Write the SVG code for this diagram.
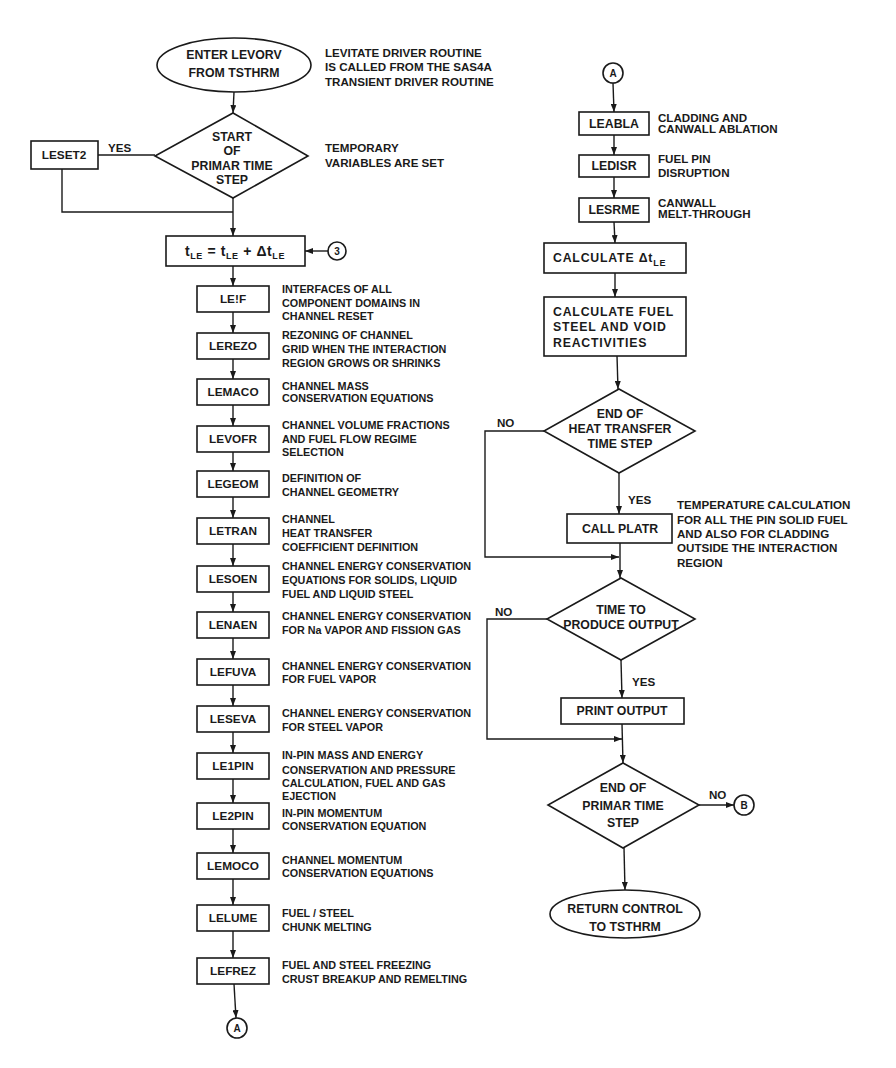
<svg xmlns="http://www.w3.org/2000/svg" width="896" height="1068" viewBox="0 0 896 1068">
<defs>
<marker id="arr" viewBox="0 0 8 6" refX="8" refY="3" markerWidth="8" markerHeight="6" markerUnits="userSpaceOnUse" orient="auto">
<path d="M0,0 L8,3 L0,6 z" fill="#1a1a1a"/>
</marker>
<style>
.bg{fill:#ffffff}
.s{fill:#ffffff;stroke:#1a1a1a;stroke-width:1.6}
.c{fill:none;stroke:#1a1a1a;stroke-width:1.4}
.t{font-family:"Liberation Sans",Arial,sans-serif;font-weight:bold;fill:#1a1a1a}
.lab{font-size:11.8px;text-anchor:middle}
.big{font-size:12.3px;text-anchor:middle}
.d{font-size:10.8px}
.r{font-size:11.6px}
.sm{font-size:9px}
.wide{font-size:12.3px;letter-spacing:0.8px}
</style>
</defs>
<rect class="bg" x="0" y="0" width="896" height="1068"/>

<g id="connectors">
<line class="c" x1="234" y1="92" x2="233" y2="113" marker-end="url(#arr)"/>
<line class="c" x1="155" y1="155" x2="98" y2="155"/>
<polyline class="c" points="62,169 62,212 233,212"/>
<line class="c" x1="233" y1="198" x2="233" y2="236" marker-end="url(#arr)"/>
<line class="c" x1="328" y1="251" x2="305" y2="251" marker-end="url(#arr)"/>
<line class="c" x1="233" y1="266" x2="233" y2="286" marker-end="url(#arr)"/>
<line class="c" x1="233" y1="312" x2="233" y2="333" marker-end="url(#arr)"/>
<line class="c" x1="233" y1="359" x2="233" y2="379" marker-end="url(#arr)"/>
<line class="c" x1="233" y1="405" x2="233" y2="426" marker-end="url(#arr)"/>
<line class="c" x1="233" y1="452" x2="233" y2="471" marker-end="url(#arr)"/>
<line class="c" x1="233" y1="497" x2="233" y2="518" marker-end="url(#arr)"/>
<line class="c" x1="233" y1="544" x2="233" y2="566" marker-end="url(#arr)"/>
<line class="c" x1="233" y1="592" x2="233" y2="612" marker-end="url(#arr)"/>
<line class="c" x1="233" y1="638" x2="233" y2="659" marker-end="url(#arr)"/>
<line class="c" x1="233" y1="685" x2="233" y2="706" marker-end="url(#arr)"/>
<line class="c" x1="233" y1="732" x2="233" y2="753" marker-end="url(#arr)"/>
<line class="c" x1="233" y1="779" x2="233" y2="803" marker-end="url(#arr)"/>
<line class="c" x1="233" y1="829" x2="233" y2="853" marker-end="url(#arr)"/>
<line class="c" x1="233" y1="879" x2="233" y2="905" marker-end="url(#arr)"/>
<line class="c" x1="233" y1="931" x2="233" y2="958" marker-end="url(#arr)"/>
<line class="c" x1="234" y1="984" x2="236" y2="1018" marker-end="url(#arr)"/>

<line class="c" x1="613" y1="83" x2="614" y2="112" marker-end="url(#arr)"/>
<line class="c" x1="614" y1="135" x2="614" y2="155" marker-end="url(#arr)"/>
<line class="c" x1="614" y1="177" x2="614" y2="198" marker-end="url(#arr)"/>
<line class="c" x1="614" y1="222" x2="615" y2="243" marker-end="url(#arr)"/>
<line class="c" x1="615" y1="273" x2="615" y2="297" marker-end="url(#arr)"/>
<line class="c" x1="617" y1="356" x2="618" y2="389" marker-end="url(#arr)"/>
<line class="c" x1="619" y1="473" x2="619" y2="514" marker-end="url(#arr)"/>
<line class="c" x1="620" y1="543" x2="620" y2="578" marker-end="url(#arr)"/>
<polyline class="c" points="544,431 485,431 485,557 619,557" marker-end="url(#arr)"/>
<line class="c" x1="621" y1="660" x2="622" y2="698" marker-end="url(#arr)"/>
<polyline class="c" points="547,619 487,619 487,739 622,739" marker-end="url(#arr)"/>
<line class="c" x1="622" y1="724" x2="623" y2="763" marker-end="url(#arr)"/>
<line class="c" x1="699" y1="805" x2="734" y2="805" marker-end="url(#arr)"/>
<line class="c" x1="624" y1="848" x2="625" y2="890" marker-end="url(#arr)"/>
</g>

<g id="enter">
<ellipse class="s" cx="234" cy="65" rx="77" ry="27"/>
<text class="t big" x="234" y="59">ENTER LEVORV</text>
<text class="t big" x="234" y="77">FROM TSTHRM</text>
<text class="t r" x="325" y="57">LEVITATE DRIVER ROUTINE</text>
<text class="t r" x="325" y="71">IS CALLED FROM THE SAS4A</text>
<text class="t r" x="325" y="86">TRANSIENT DRIVER ROUTINE</text>
</g>

<g id="start-primar">
<polygon class="s" points="233,113 308,156 233,198 155,156"/>
<text class="t big" x="232" y="141">START</text>
<text class="t big" x="232" y="155">OF</text>
<text class="t big" x="232" y="170">PRIMAR TIME</text>
<text class="t big" x="232" y="184">STEP</text>
<text class="t r" x="325" y="152">TEMPORARY</text>
<text class="t r" x="325" y="167">VARIABLES ARE SET</text>
<text class="t r" x="108" y="152">YES</text>
</g>

<g id="leset2">
<rect class="s" x="31" y="141" width="67" height="28"/>
<text class="t lab" x="64" y="159">LESET2</text>
</g>

<g id="tle">
<rect class="s" x="166" y="236" width="139" height="30"/>
<text class="t" x="235" y="256" text-anchor="middle" font-size="14px" letter-spacing="0.6px">t<tspan class="sm" dy="3">LE</tspan><tspan dy="-3"> = t</tspan><tspan class="sm" dy="3">LE</tspan><tspan dy="-3"> + Δt</tspan><tspan class="sm" dy="3">LE</tspan></text>
</g>

<g id="conn-b-top">
<circle class="s" cx="337" cy="251" r="9"/>
<text class="t" x="337" y="255" text-anchor="middle" font-size="10px">3</text>
</g>

<g id="le-if">
<rect class="s" x="197" y="286" width="72" height="26"/>
<text class="t lab" x="233" y="303">LE!F</text>
<text class="t d" x="282" y="293">INTERFACES OF ALL</text>
<text class="t d" x="282" y="307">COMPONENT DOMAINS IN</text>
<text class="t d" x="282" y="320">CHANNEL RESET</text>
</g>
<g id="lerezo">
<rect class="s" x="197" y="333" width="72" height="26"/>
<text class="t lab" x="233" y="350">LEREZO</text>
<text class="t d" x="282" y="339">REZONING OF CHANNEL</text>
<text class="t d" x="282" y="353">GRID WHEN THE INTERACTION</text>
<text class="t d" x="282" y="367">REGION GROWS OR SHRINKS</text>
</g>
<g id="lemaco">
<rect class="s" x="197" y="379" width="72" height="26"/>
<text class="t lab" x="233" y="396">LEMACO</text>
<text class="t d" x="282" y="390">CHANNEL MASS</text>
<text class="t d" x="282" y="402">CONSERVATION EQUATIONS</text>
</g>
<g id="levofr">
<rect class="s" x="197" y="426" width="72" height="26"/>
<text class="t lab" x="233" y="443">LEVOFR</text>
<text class="t d" x="282" y="429">CHANNEL VOLUME FRACTIONS</text>
<text class="t d" x="282" y="443">AND FUEL FLOW REGIME</text>
<text class="t d" x="282" y="456">SELECTION</text>
</g>
<g id="legeom">
<rect class="s" x="197" y="471" width="72" height="26"/>
<text class="t lab" x="233" y="488">LEGEOM</text>
<text class="t d" x="282" y="482">DEFINITION OF</text>
<text class="t d" x="282" y="496">CHANNEL GEOMETRY</text>
</g>
<g id="letran">
<rect class="s" x="197" y="518" width="72" height="26"/>
<text class="t lab" x="233" y="535">LETRAN</text>
<text class="t d" x="282" y="523">CHANNEL</text>
<text class="t d" x="282" y="537">HEAT TRANSFER</text>
<text class="t d" x="282" y="551">COEFFICIENT DEFINITION</text>
</g>
<g id="lesoen">
<rect class="s" x="197" y="566" width="72" height="26"/>
<text class="t lab" x="233" y="583">LESOEN</text>
<text class="t d" x="282" y="570">CHANNEL ENERGY CONSERVATION</text>
<text class="t d" x="282" y="584">EQUATIONS FOR SOLIDS, LIQUID</text>
<text class="t d" x="282" y="598">FUEL AND LIQUID STEEL</text>
</g>
<g id="lenaen">
<rect class="s" x="197" y="612" width="72" height="26"/>
<text class="t lab" x="233" y="629">LENAEN</text>
<text class="t d" x="282" y="620">CHANNEL ENERGY CONSERVATION</text>
<text class="t d" x="282" y="634">FOR Na VAPOR AND FISSION GAS</text>
</g>
<g id="lefuva">
<rect class="s" x="197" y="659" width="72" height="26"/>
<text class="t lab" x="233" y="676">LEFUVA</text>
<text class="t d" x="282" y="670">CHANNEL ENERGY CONSERVATION</text>
<text class="t d" x="282" y="683">FOR FUEL VAPOR</text>
</g>
<g id="leseva">
<rect class="s" x="197" y="706" width="72" height="26"/>
<text class="t lab" x="233" y="723">LESEVA</text>
<text class="t d" x="282" y="717">CHANNEL ENERGY CONSERVATION</text>
<text class="t d" x="282" y="731">FOR STEEL VAPOR</text>
</g>
<g id="le1pin">
<rect class="s" x="197" y="753" width="72" height="26"/>
<text class="t lab" x="233" y="770">LE1PIN</text>
<text class="t d" x="282" y="759">IN-PIN MASS AND ENERGY</text>
<text class="t d" x="282" y="774">CONSERVATION AND PRESSURE</text>
<text class="t d" x="282" y="787">CALCULATION, FUEL AND GAS</text>
<text class="t d" x="282" y="800">EJECTION</text>
</g>
<g id="le2pin">
<rect class="s" x="197" y="803" width="72" height="26"/>
<text class="t lab" x="233" y="820">LE2PIN</text>
<text class="t d" x="282" y="817">IN-PIN MOMENTUM</text>
<text class="t d" x="282" y="830">CONSERVATION EQUATION</text>
</g>
<g id="lemoco">
<rect class="s" x="197" y="853" width="72" height="26"/>
<text class="t lab" x="233" y="870">LEMOCO</text>
<text class="t d" x="282" y="864">CHANNEL MOMENTUM</text>
<text class="t d" x="282" y="877">CONSERVATION EQUATIONS</text>
</g>
<g id="lelume">
<rect class="s" x="197" y="905" width="72" height="26"/>
<text class="t lab" x="233" y="922">LELUME</text>
<text class="t d" x="282" y="917">FUEL / STEEL</text>
<text class="t d" x="282" y="931">CHUNK MELTING</text>
</g>
<g id="lefrez">
<rect class="s" x="197" y="958" width="72" height="26"/>
<text class="t lab" x="233" y="975">LEFREZ</text>
<text class="t d" x="282" y="969">FUEL AND STEEL FREEZING</text>
<text class="t d" x="282" y="983">CRUST BREAKUP AND REMELTING</text>
</g>
<g id="conn-a-bottom">
<circle class="s" cx="237" cy="1028" r="10"/>
<text class="t" x="237" y="1032" text-anchor="middle" font-size="10px">A</text>
</g>

<g id="conn-a-top">
<circle class="s" cx="613" cy="73" r="10"/>
<text class="t" x="613" y="77" text-anchor="middle" font-size="10px">A</text>
</g>
<g id="leabla">
<rect class="s" x="579" y="112" width="70" height="23"/>
<text class="t big" x="614" y="128">LEABLA</text>
<text class="t r" x="658" y="122">CLADDING AND</text>
<text class="t r" x="658" y="133">CANWALL ABLATION</text>
</g>
<g id="ledisr">
<rect class="s" x="579" y="155" width="70" height="22"/>
<text class="t big" x="614" y="170">LEDISR</text>
<text class="t r" x="658" y="163">FUEL PIN</text>
<text class="t r" x="658" y="177">DISRUPTION</text>
</g>
<g id="lesrme">
<rect class="s" x="579" y="198" width="70" height="24"/>
<text class="t big" x="614" y="214">LESRME</text>
<text class="t r" x="658" y="207">CANWALL</text>
<text class="t r" x="658" y="218">MELT-THROUGH</text>
</g>
<g id="calc-dt">
<rect class="s" x="544" y="243" width="142" height="30"/>
<text class="t wide" x="553" y="262">CALCULATE   Δt<tspan class="sm" dy="4">LE</tspan></text>
</g>
<g id="calc-react">
<rect class="s" x="544" y="297" width="142" height="59"/>
<text class="t wide" x="553" y="316">CALCULATE  FUEL</text>
<text class="t wide" x="553" y="331">STEEL AND VOID</text>
<text class="t wide" x="553" y="347">REACTIVITIES</text>
</g>
<g id="end-heat">
<polygon class="s" points="619,389 695,431 619,473 544,431"/>
<text class="t big" x="620" y="418">END OF</text>
<text class="t big" x="620" y="433">HEAT TRANSFER</text>
<text class="t big" x="620" y="448">TIME STEP</text>
<text class="t r" x="497" y="427">NO</text>
<text class="t r" x="628" y="504">YES</text>
</g>
<g id="platr">
<rect class="s" x="567" y="514" width="105" height="29"/>
<text class="t big" x="620" y="533">CALL PLATR</text>
<text class="t r" x="677" y="509">TEMPERATURE CALCULATION</text>
<text class="t r" x="677" y="524">FOR ALL THE PIN SOLID FUEL</text>
<text class="t r" x="677" y="538">AND ALSO FOR CLADDING</text>
<text class="t r" x="677" y="552">OUTSIDE THE INTERACTION</text>
<text class="t r" x="677" y="567">REGION</text>
</g>
<g id="time-output">
<polygon class="s" points="621,578 695,619 621,660 547,619"/>
<text class="t big" x="621" y="614">TIME TO</text>
<text class="t big" x="621" y="629">PRODUCE OUTPUT</text>
<text class="t r" x="495" y="616">NO</text>
<text class="t r" x="632" y="686">YES</text>
</g>
<g id="print">
<rect class="s" x="561" y="698" width="123" height="26"/>
<text class="t big" x="622" y="715">PRINT OUTPUT</text>
</g>
<g id="end-primar">
<polygon class="s" points="623,763 699,805 623,848 548,805"/>
<text class="t big" x="623" y="792">END OF</text>
<text class="t big" x="623" y="810">PRIMAR TIME</text>
<text class="t big" x="623" y="827">STEP</text>
<text class="t r" x="709" y="799">NO</text>
</g>
<g id="conn-b-bottom">
<circle class="s" cx="744" cy="805" r="10"/>
<text class="t" x="744" y="809" text-anchor="middle" font-size="10px">B</text>
</g>
<g id="return">
<ellipse class="s" cx="625" cy="914" rx="75" ry="24"/>
<text class="t big" x="625" y="913">RETURN CONTROL</text>
<text class="t big" x="625" y="931">TO TSTHRM</text>
</g>
</svg>
